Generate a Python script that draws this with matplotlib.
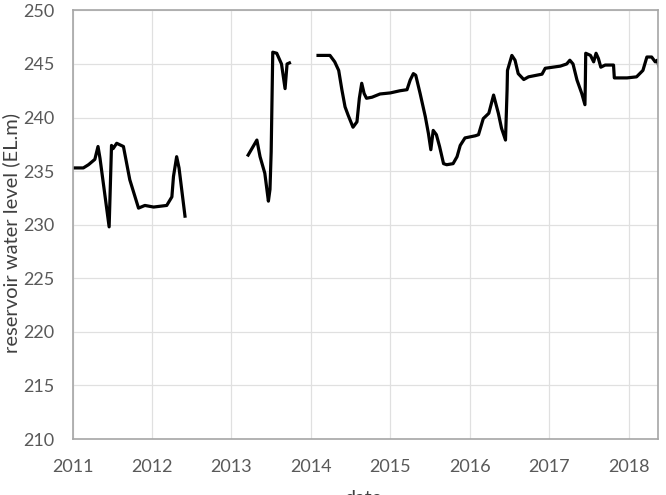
import matplotlib

matplotlib.use("Agg")
import matplotlib.pyplot as plt
import numpy as np

# three observed periods of reservoir water level (decimal year, EL.m)
years_a = [2011.0, 2011.135, 2011.20, 2011.28, 2011.32, 2011.345, 2011.46, 2011.49,
           2011.51, 2011.555, 2011.64, 2011.72, 2011.83, 2011.91, 2012.02, 2012.185,
           2012.25, 2012.27, 2012.31, 2012.34, 2012.415]
level_a = [235.3, 235.3, 235.6, 236.1, 237.3, 236.2, 229.8, 237.4,
           237.1, 237.6, 237.3, 234.2, 231.55, 231.8, 231.65, 231.8,
           232.6, 234.5, 236.35, 235.3, 230.8]

years_b = [2013.21, 2013.32, 2013.36, 2013.42, 2013.465, 2013.485, 2013.50, 2013.52,
           2013.57, 2013.63, 2013.675, 2013.70, 2013.73]
level_b = [236.5, 237.9, 236.35, 234.8, 232.2, 233.3, 236.8, 246.1,
           246.0, 245.0, 242.7, 245.0, 245.1]

years_c = [2014.09, 2014.24, 2014.30, 2014.35, 2014.39, 2014.43, 2014.47, 2014.53,
           2014.58, 2014.61, 2014.64, 2014.67, 2014.70, 2014.77, 2014.87, 2015.00,
           2015.12, 2015.21, 2015.25, 2015.29, 2015.32, 2015.375, 2015.44, 2015.48,
           2015.51, 2015.54, 2015.58, 2015.62, 2015.67, 2015.71, 2015.79, 2015.84,
           2015.88, 2015.94, 2016.07, 2016.11, 2016.17, 2016.24, 2016.30, 2016.36,
           2016.40, 2016.45, 2016.47, 2016.475, 2016.53, 2016.57, 2016.61, 2016.68,
           2016.74, 2016.91, 2016.95, 2017.14, 2017.22, 2017.26, 2017.30, 2017.35,
           2017.41, 2017.45, 2017.455, 2017.46, 2017.52, 2017.56, 2017.59, 2017.62,
           2017.65, 2017.705, 2017.81, 2017.82, 2017.98, 2018.10, 2018.18, 2018.23,
           2018.29, 2018.335, 2018.36, 2018.40]
level_c = [245.8, 245.8, 245.2, 244.4, 242.6, 241.0, 240.2, 239.1,
           239.6, 241.8, 243.2, 242.25, 241.8, 241.9, 242.2, 242.3,
           242.5, 242.6, 243.5, 244.1, 243.95, 242.25, 240.1, 238.5,
           237.0, 238.8, 238.4, 237.3, 235.7, 235.6, 235.7, 236.35,
           237.4, 238.1, 238.3, 238.4, 239.9, 240.4, 242.1, 240.4,
           239.0, 237.9, 242.6, 244.4, 245.8, 245.35, 244.1, 243.55,
           243.8, 244.05, 244.6, 244.8, 245.0, 245.35, 245.0, 243.5,
           242.25, 241.2, 243.2, 246.0, 245.8, 245.2, 246.0, 245.5,
           244.7, 244.9, 244.9, 243.7, 243.7, 243.8, 244.4, 245.65,
           245.65, 245.2, 245.35, 244.3]

x_ticks = list(range(2011, 2019))
y_ticks = list(range(210, 251, 5))

plt.rcParams["font.family"] = ["Lato", "DejaVu Sans"]

fig = plt.figure(figsize=(6.66, 4.95), dpi=100)
ax = fig.add_axes([0.109, 0.113, 0.879, 0.866])

for xs, ys in [(years_a, level_a), (years_b, level_b), (years_c, level_c)]:
    ax.plot(xs, ys, color="black", linewidth=2.3, solid_joinstyle="round")

ax.set_xlim(2011, 2018.37)
ax.set_ylim(210, 250)
ax.set_xticks(x_ticks)
ax.set_yticks(y_ticks)
ax.tick_params(length=0, labelsize=13, labelcolor="#595959")
ax.tick_params(axis="x", pad=14)
ax.tick_params(axis="y", pad=13)
ax.grid(True, color="#e0e0e0", linewidth=0.9)
ax.set_axisbelow(True)
for sp in ax.spines.values():
    sp.set_color("#a6a6a6")
    sp.set_linewidth(1.2)

fig.text(0.017, 0.53, "reservoir water level (EL.m)", rotation=90, ha="center", va="center",
         fontsize=14.5, color="#404040")
fig.text(0.545, -0.008, "date", ha="center", va="center", fontsize=14, color="#404040")

fig.savefig("out.png", dpi=100)
